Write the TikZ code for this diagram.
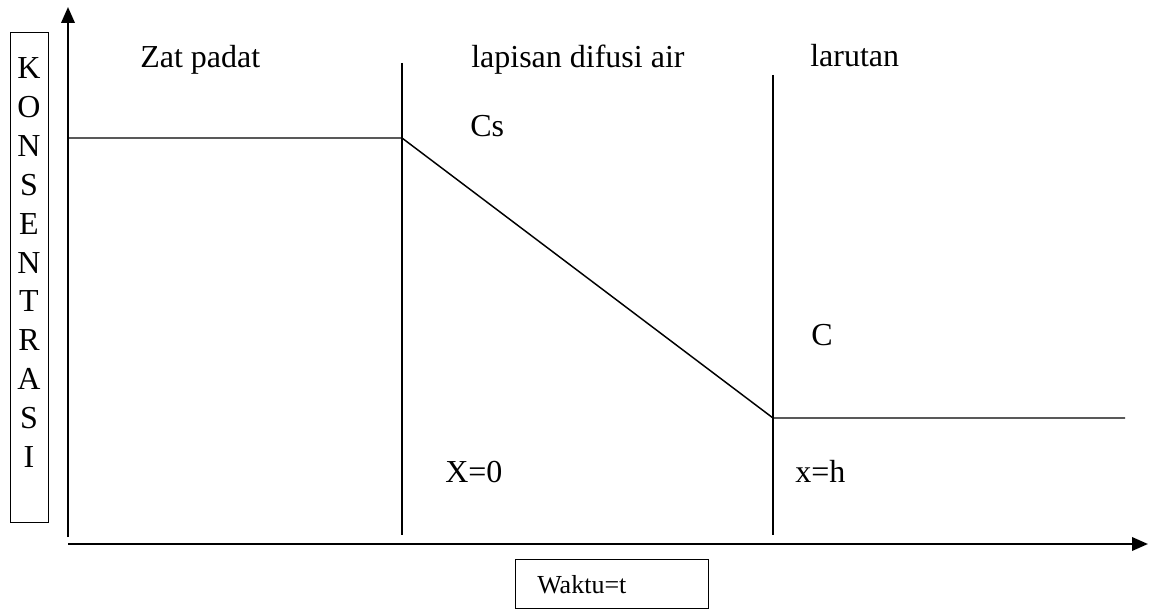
\documentclass[tikz,border=0pt]{standalone}
\usepackage{fontspec}
\setmainfont{Liberation Serif}
\usetikzlibrary{arrows.meta,positioning}

\begin{document}
\begin{tikzpicture}[x={(0.75pt,0)},y={(0,-0.75pt)},>={Triangle[length=12pt,width=10pt]},
  axis/.style={line width=1.9pt},
  wall/.style={line width=1.1pt},
  lbl/.style={inner sep=0pt,anchor=base west,font=\fontsize{24}{28}\selectfont},
  boxed/.style={draw,line width=1.1pt,inner sep=0pt}]
  \useasboundingbox (0,0) rectangle (1149,610);
  % axes
  \coordinate (o) at (68,544);
  \draw[axis,->] (68,537) -- (68,7);
  \draw[axis,->] (o) -- (1148,544);
  % vertical label box
  \node[boxed,minimum width=28.5pt,minimum height=367.5pt,anchor=north west] (konsbox) at (10,32) {};
  \foreach \l [count=\i] in {K,O,N,S,E,N,T,R,A,S,I}
    \node[inner sep=0pt,anchor=base,font=\fontsize{24}{28}\selectfont] (k\i) at (29,{79+38.8*(\i-1)}) {\l};
  % walls
  \coordinate (wallAtop) at (402,63);
  \coordinate (wallAbot) at (402,535);
  \coordinate (wallBtop) at (773,75);
  \coordinate (wallBbot) at (773,535);
  \draw[wall] (wallAtop) -- (wallAbot);
  \draw[wall] (wallBtop) -- (wallBbot);
  % concentration profile
  \coordinate (left) at (68,138);
  \coordinate (cs) at (402,138);
  \coordinate (c) at (773,418);
  \coordinate (right) at (1125,418);
  \draw[wall] (left) -- (cs) -- (c) -- (right);
  % labels
  \node[lbl] (padat) at (140,68) {Zat padat};
  \node[lbl] (lapisan) at (471,68) {lapisan difusi air};
  \node[lbl] (larutan) at (810,67) {larutan};
  \node[lbl] (cslbl) at (470,136) {Cs};
  \node[lbl] (clbl) at (811,345) {C};
  \node[lbl] (x0) at (445,482) {X=0};
  \node[lbl] (xh) at (795,482) {x=h};
  % time box
  \node[boxed,minimum width=144.75pt,minimum height=36.75pt,anchor=north west] (waktubox) at (515,559) {};
  \node[inner sep=0pt,anchor=base west,font=\fontsize{19.5}{23}\selectfont] (waktu) at (537,593) {Waktu=t};
\end{tikzpicture}
\end{document}
